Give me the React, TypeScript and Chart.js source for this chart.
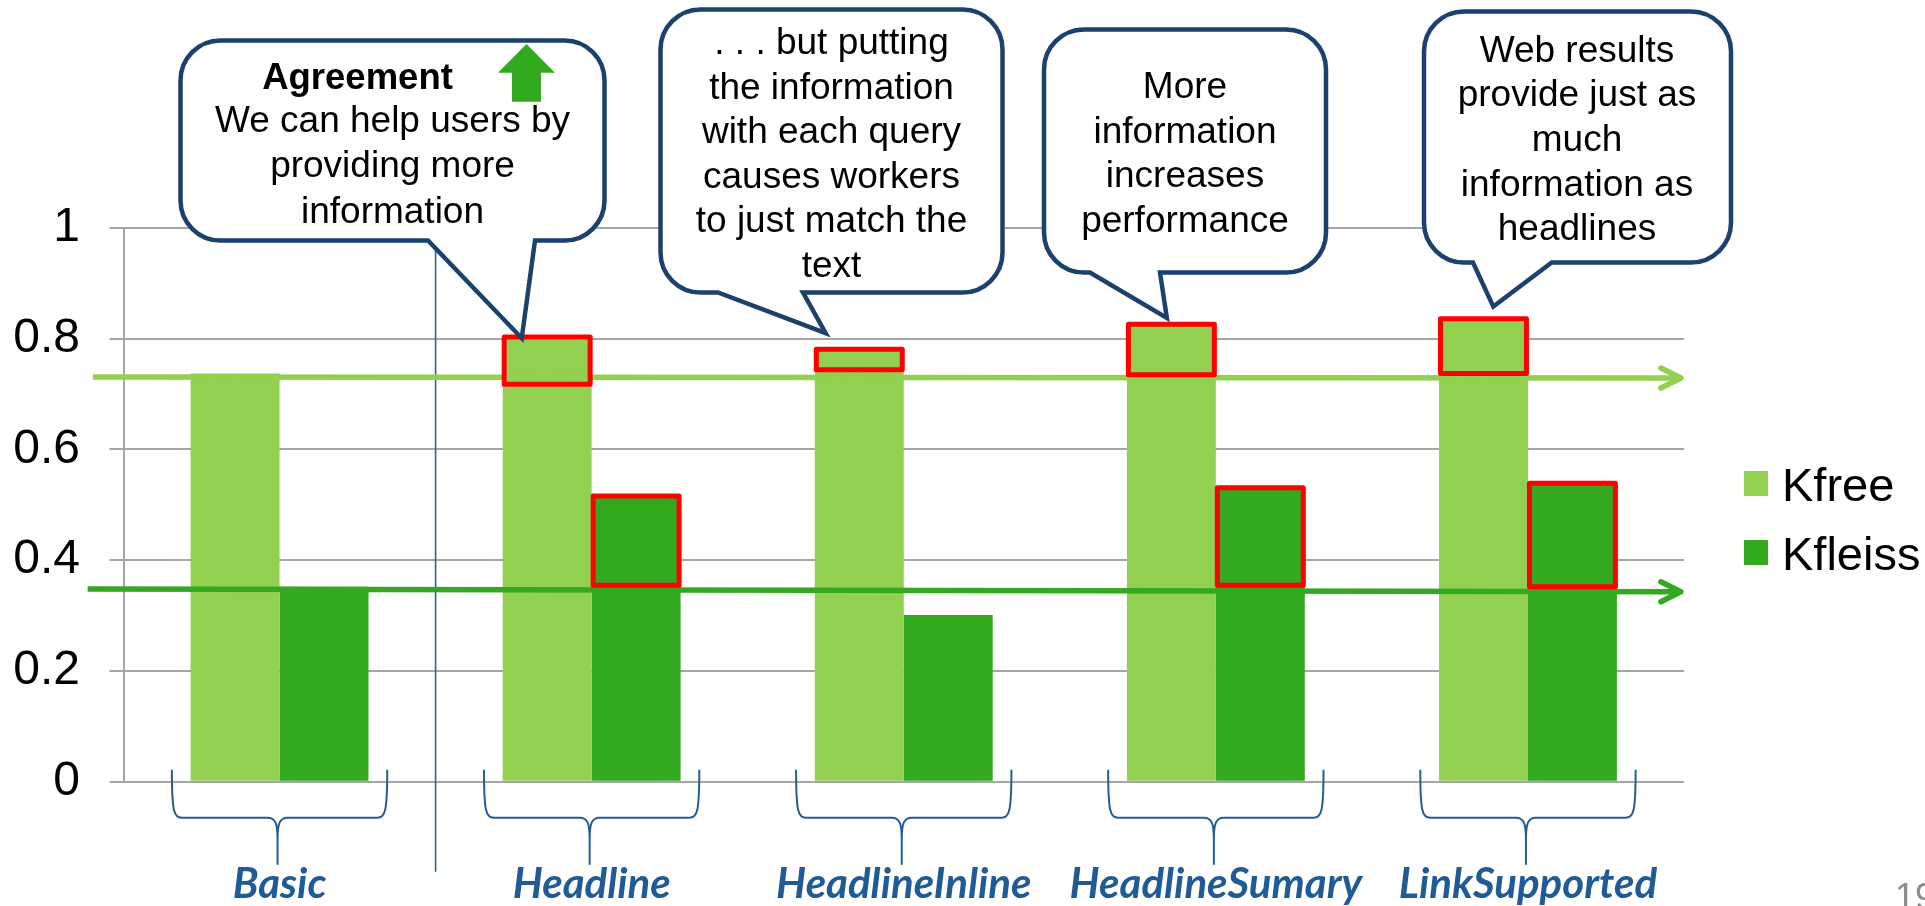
import React, { useEffect, useRef } from 'react';
import { Chart, registerables } from 'chart.js';

Chart.register(...registerables);

// ---------- data ----------
const categories = ['Basic', 'Headline', 'HeadlineInline', 'HeadlineSumary', 'LinkSupported'];
const seriesLabels = ['Kfree', 'Kfleiss'];
const kfree = [0.737, 0.801, 0.781, 0.826, 0.836];
const kfleiss = [0.352, 0.516, 0.301, 0.531, 0.539];
const yTickLabels = ['0', '0.2', '0.4', '0.6', '0.8', '1'];
// baseline reference arrows: [value at left end, value at right end]
const kfreeRef = [0.731, 0.729];
const kfleissRef = [0.348, 0.343];
// highlighted gain boxes [low, high] per category (null = none)
const kfreeGain: (number[] | null)[] = [null, [0.718, 0.803], [0.744, 0.781], [0.735, 0.826], [0.737, 0.836]];
const kfleissGain: (number[] | null)[] = [null, [0.355, 0.516], null, [0.355, 0.531], [0.352, 0.539]];
const pageNumber = '19';

// ---------- styles ----------
const LIGHT = '#92d050';
const DARK = '#33a91f';
const NAVY = '#1b426c';
const BLUE = '#1f5b96';
const GRID = '#a6a6a6';
const SANS = '"Liberation Sans", Arial, sans-serif';

type Callout = {
  left: number; top: number; right: number; bottom: number;
  baseL: number; baseR: number;
  tipIndex: number; tipDx: number; tipValue: number;
  title?: string; titleX?: number; titleY?: number;
  lines: string[]; lineX: number; firstBaseline: number; lineGap: number;
};

const callouts: Callout[] = [
  {
    left: 180.5, top: 40.5, right: 604.5, bottom: 240.5, baseL: 428, baseR: 535,
    tipIndex: 1, tipDx: -0.224, tipValue: 0.801,
    title: 'Agreement', titleX: 357.5, titleY: 89,
    lines: ['We can help users by', 'providing more', 'information'],
    lineX: 392.5, firstBaseline: 131.7, lineGap: 45.5,
  },
  {
    left: 660.5, top: 9.5, right: 1002.5, bottom: 292.5, baseL: 718, baseR: 803,
    tipIndex: 2, tipDx: -0.25, tipValue: 0.81,
    lines: ['. . . but putting', 'the information', 'with each query', 'causes workers', 'to just match the', 'text'],
    lineX: 831.5, firstBaseline: 54, lineGap: 44.6,
  },
  {
    left: 1044, top: 29.5, right: 1326, bottom: 272.5, baseL: 1090, baseR: 1160,
    tipIndex: 3, tipDx: -0.157, tipValue: 0.8375,
    lines: ['More', 'information', 'increases', 'performance'],
    lineX: 1185, firstBaseline: 98, lineGap: 44.6,
  },
  {
    left: 1424, top: 11.5, right: 1731, bottom: 262.5, baseL: 1473, baseR: 1551.7,
    tipIndex: 4, tipDx: -0.111, tipValue: 0.858,
    lines: ['Web results', 'provide just as', 'much', 'information as', 'headlines'],
    lineX: 1577, firstBaseline: 61.7, lineGap: 44.6,
  },
];

function bubblePath(ctx: CanvasRenderingContext2D, c: Callout, tx: number, ty: number) {
  const r = 40;
  const { left: l, top: t, right: rr, bottom: b } = c;
  ctx.beginPath();
  ctx.moveTo(l + r, t);
  ctx.lineTo(rr - r, t);
  ctx.arcTo(rr, t, rr, t + r, r);
  ctx.lineTo(rr, b - r);
  ctx.arcTo(rr, b, rr - r, b, r);
  ctx.lineTo(c.baseR, b);
  ctx.lineTo(tx, ty);
  ctx.lineTo(c.baseL, b);
  ctx.lineTo(l + r, b);
  ctx.arcTo(l, b, l, b - r, r);
  ctx.lineTo(l, t + r);
  ctx.arcTo(l, t, l + r, t, r);
  ctx.closePath();
}

const overlayPlugin = {
  id: 'overlay',
  afterDatasetsDraw(chart: any) {
    const ctx: CanvasRenderingContext2D = chart.ctx;
    const xs = chart.scales.x;
    const ys = chart.scales.y;
    const area = chart.chartArea;
    ctx.save();

    // separator line between Basic and the rest
    const sx = xs.getPixelForValue(0.5);
    ctx.strokeStyle = '#2e6195';
    ctx.lineWidth = 1.6;
    ctx.beginPath();
    ctx.moveTo(sx, area.top + 10);
    ctx.lineTo(sx, area.bottom + 90);
    ctx.stroke();

    // curly braces under each category
    ctx.strokeStyle = '#235d96';
    ctx.lineWidth = 2;
    const yTop = area.bottom - 12;
    const yH = area.bottom + 36;
    const yTip = area.bottom + 83;
    categories.forEach((_, i) => {
      const xl = xs.getPixelForValue(i - 0.345);
      const xr = xs.getPixelForValue(i + 0.345);
      const xc = xs.getPixelForValue(i) - 2;
      ctx.beginPath();
      ctx.moveTo(xl, yTop);
      ctx.bezierCurveTo(xl, yH - 6, xl + 2, yH, xl + 10, yH);
      ctx.lineTo(xc - 10, yH);
      ctx.bezierCurveTo(xc - 2, yH, xc, yH + 6, xc, yH + 22);
      ctx.lineTo(xc, yTip);
      ctx.moveTo(xc, yH + 22);
      ctx.bezierCurveTo(xc, yH + 6, xc + 2, yH, xc + 10, yH);
      ctx.lineTo(xr - 10, yH);
      ctx.bezierCurveTo(xr - 2, yH, xr, yH - 6, xr, yTop);
      ctx.stroke();
    });

    // reference arrows
    const drawRef = (vals: number[], color: string, startIdx: number) => {
      const x0 = xs.getPixelForValue(startIdx);
      const x1 = xs.getPixelForValue(4.49);
      const y0 = ys.getPixelForValue(vals[0]);
      const y1 = ys.getPixelForValue(vals[1]);
      ctx.strokeStyle = color;
      ctx.lineWidth = 5.5;
      ctx.lineCap = 'butt';
      ctx.beginPath();
      ctx.moveTo(x0, y0);
      ctx.lineTo(x1 - 2, y1);
      ctx.stroke();
      ctx.lineCap = 'round';
      ctx.lineJoin = 'round';
      ctx.beginPath();
      ctx.moveTo(x1 - 20, y1 - 10);
      ctx.lineTo(x1, y1);
      ctx.lineTo(x1 - 20, y1 + 10);
      ctx.stroke();
    };
    drawRef(kfreeRef, LIGHT, -0.598);
    drawRef(kfleissRef, DARK, -0.615);

    // red gain boxes
    ctx.strokeStyle = '#ff0000';
    ctx.lineWidth = 5;
    ctx.lineJoin = 'round';
    [kfreeGain, kfleissGain].forEach((gains, di) => {
      const meta = chart.getDatasetMeta(di);
      gains.forEach((g, i) => {
        if (!g) return;
        const bar = meta.data[i];
        const left = bar.x - bar.width / 2 + 1.5;
        const w = bar.width - 3;
        const yLow = ys.getPixelForValue(g[0]);
        const yHigh = ys.getPixelForValue(g[1]);
        ctx.strokeRect(left, yHigh, w, yLow - yHigh);
      });
    });
    ctx.restore();
  },
  afterDraw(chart: any) {
    const ctx: CanvasRenderingContext2D = chart.ctx;
    const xs = chart.scales.x;
    const ys = chart.scales.y;
    const area = chart.chartArea;
    ctx.save();

    // callout bubbles
    callouts.forEach((c) => {
      const tx = xs.getPixelForValue(c.tipIndex + c.tipDx);
      const ty = ys.getPixelForValue(c.tipValue);
      bubblePath(ctx, c, tx, ty);
      ctx.fillStyle = '#ffffff';
      ctx.fill();
      ctx.strokeStyle = NAVY;
      ctx.lineWidth = 4.5;
      ctx.lineJoin = 'miter';
      ctx.miterLimit = 10;
      ctx.stroke();

      ctx.fillStyle = '#000000';
      ctx.textAlign = 'center';
      ctx.textBaseline = 'alphabetic';
      if (c.title) {
        ctx.font = `bold 36.5px ${SANS}`;
        ctx.fillText(c.title, c.titleX as number, c.titleY as number);
      }
      ctx.font = `37px ${SANS}`;
      c.lines.forEach((ln, k) => {
        ctx.fillText(ln, c.lineX, c.firstBaseline + k * c.lineGap);
      });
    });

    // green "up" arrow in the Agreement bubble
    ctx.fillStyle = DARK;
    ctx.beginPath();
    ctx.moveTo(498, 72.7);
    ctx.lineTo(526.5, 44);
    ctx.lineTo(555, 72.7);
    ctx.lineTo(541, 72.7);
    ctx.lineTo(541, 101.7);
    ctx.lineTo(512, 101.7);
    ctx.lineTo(512, 72.7);
    ctx.closePath();
    ctx.fill();

    // legend
    const lx = area.right + 60;
    const rows = [471, 540];
    chart.data.datasets.forEach((ds: any, i: number) => {
      ctx.fillStyle = ds.backgroundColor;
      ctx.fillRect(lx, rows[i], 24, 25);
      ctx.fillStyle = '#000000';
      ctx.font = `47px ${SANS}`;
      ctx.textAlign = 'left';
      ctx.textBaseline = 'alphabetic';
      ctx.fillText(ds.label, lx + 38, rows[i] + 30);
    });

    // page number
    ctx.fillStyle = '#8c8c8c';
    ctx.font = `36px ${SANS}`;
    ctx.textAlign = 'left';
    ctx.fillText(pageNumber, 1895, 909);
    ctx.restore();
  },
};

export default function App() {
  const canvasRef = useRef<HTMLCanvasElement>(null);

  useEffect(() => {
    document.body.style.margin = '0';
    document.body.style.overflow = 'hidden';
    let chart: Chart | null = null;
    let cancelled = false;

    const fontsReady: Promise<any> = (document as any).fonts
      ? Promise.all([
          (document as any).fonts.load('italic bold 42px Lato'),
          (document as any).fonts.load('37px "Liberation Sans"'),
          (document as any).fonts.load('bold 37px "Liberation Sans"'),
        ]).catch(() => null)
      : Promise.resolve(null);

    fontsReady.then(() => {
      if (cancelled || !canvasRef.current) return;
      chart = new Chart(canvasRef.current, {
        type: 'bar',
        data: {
          labels: categories,
          datasets: [
            { label: seriesLabels[0], data: kfree, backgroundColor: LIGHT, borderWidth: 0 },
            { label: seriesLabels[1], data: kfleiss, backgroundColor: DARK, borderWidth: 0 },
          ],
        },
        options: {
          responsive: false,
          animation: false,
          layout: { padding: { top: 228, right: 241, bottom: 0, left: 0 } },
          datasets: { bar: { categoryPercentage: 0.57, barPercentage: 1.0 } },
          plugins: { legend: { display: false }, tooltip: { enabled: false } },
          scales: {
            x: {
              grid: { display: false, drawTicks: false, tickLength: 0 },
              border: { display: false },
              ticks: {
                color: BLUE,
                padding: 78,
                maxRotation: 0,
                autoSkip: false,
                font: { family: 'Lato', size: 42, style: 'italic', weight: 'bold' },
              },
              afterFit: (s: any) => { s.height = 124.3; },
            },
            y: {
              min: 0,
              max: 1,
              grid: { color: GRID, lineWidth: 2, tickLength: 14, drawTicks: true },
              border: { color: GRID, width: 2 },
              ticks: {
                stepSize: 0.2,
                color: '#000000',
                padding: 29.5,
                font: { family: 'Liberation Sans', size: 48 },
                callback: (_v: any, i: number) => yTickLabels[i],
              },
              afterFit: (s: any) => { s.width = 123.5; },
            },
          },
        },
        plugins: [overlayPlugin],
      } as any);
    });

    return () => {
      cancelled = true;
      if (chart) chart.destroy();
    };
  }, []);

  return <canvas ref={canvasRef} width={1925} height={906} style={{ display: 'block' }} />;
}
